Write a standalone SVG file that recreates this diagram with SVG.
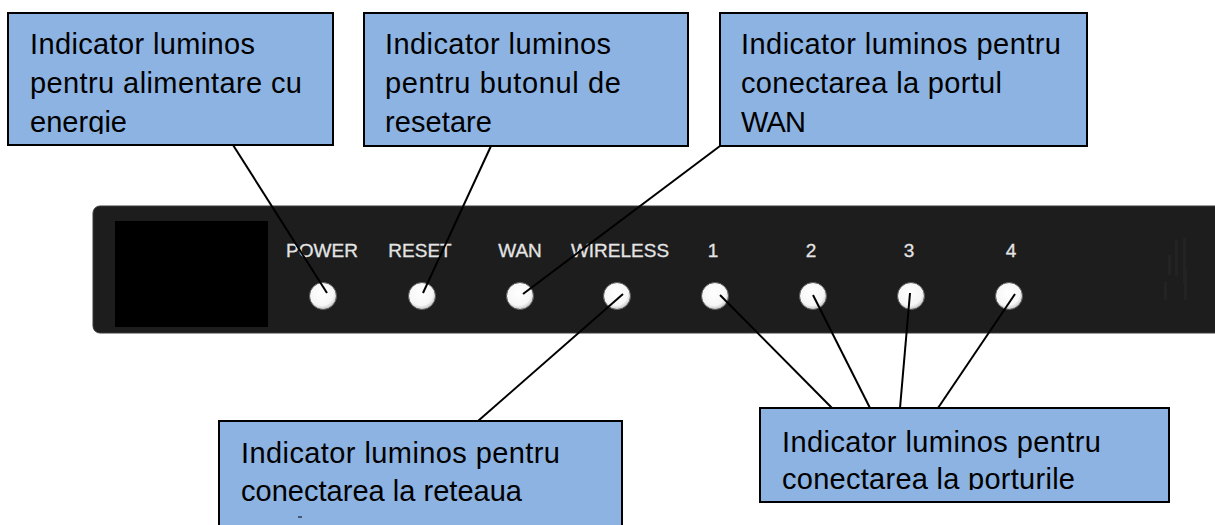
<svg xmlns="http://www.w3.org/2000/svg" width="1215" height="525" viewBox="0 0 1215 525">
<style>
.box{fill:#8db3e2;stroke:#000;stroke-width:2}
.t{font-family:"Liberation Sans",Arial,sans-serif;font-size:29px;fill:#000}
.lbl{font-family:"Liberation Sans",Arial,sans-serif;font-size:19px;fill:#e4e4e4;stroke:#e4e4e4;stroke-width:0.3;text-anchor:middle}
.conn{stroke:#000;stroke-width:2;fill:none}
</style>
<defs>
<clipPath id="c1"><rect x="8" y="13" width="325" height="121"/></clipPath>
<clipPath id="c2"><rect x="364" y="13" width="324" height="121"/></clipPath>
<clipPath id="c3"><rect x="720" y="13" width="367" height="121"/></clipPath>
<clipPath id="c5"><rect x="760" y="408" width="409" height="82"/></clipPath>
<radialGradient id="ledg" cx="0.45" cy="0.4" r="0.6">
<stop offset="0" stop-color="#ffffff"/><stop offset="0.75" stop-color="#f6f6f6"/><stop offset="1" stop-color="#c4c4c4"/>
</radialGradient>
</defs>
<rect width="1215" height="525" fill="#fff"/>

<g id="router">
<rect x="93" y="206" width="1140" height="127" rx="7" fill="#1d1d1d" stroke="#3a3a3a" stroke-width="1"/>
<rect x="115" y="221" width="153" height="106" fill="#000"/>
<g fill="#232323">
<rect x="1168" y="255" width="3" height="20"/><rect x="1175" y="240" width="3" height="36"/><rect x="1183" y="238" width="3" height="45"/>
<rect x="1164" y="282" width="3" height="18"/><rect x="1184" y="270" width="3" height="30"/>
</g>
<text class="lbl" x="322" y="257">POWER</text>
<text class="lbl" x="420" y="257">RESET</text>
<text class="lbl" x="520" y="257">WAN</text>
<text class="lbl" x="620" y="257">WIRELESS</text>
<text class="lbl" x="713" y="257">1</text>
<text class="lbl" x="811" y="257">2</text>
<text class="lbl" x="909" y="257">3</text>
<text class="lbl" x="1011" y="257">4</text>
<g fill="url(#ledg)" stroke="#5a5a5a" stroke-width="1">
<circle cx="323" cy="296" r="13.5"/>
<circle cx="422" cy="296" r="13.5"/>
<circle cx="520" cy="296" r="13.5"/>
<circle cx="617" cy="296" r="13.5"/>
<circle cx="715" cy="296" r="13.5"/>
<circle cx="813" cy="296" r="13.5"/>
<circle cx="911" cy="296" r="13.5"/>
<circle cx="1009" cy="296" r="13.5"/>
</g>
</g>

<g id="connectors">
<line class="conn" x1="233" y1="145" x2="327" y2="293"/>
<line class="conn" x1="491" y1="146" x2="423" y2="293"/>
<line class="conn" x1="720" y1="146" x2="523" y2="294"/>
<line class="conn" x1="623" y1="294" x2="478" y2="421"/>
<line class="conn" x1="720" y1="295" x2="832" y2="408"/>
<line class="conn" x1="813" y1="295" x2="870" y2="408"/>
<line class="conn" x1="910" y1="293" x2="900" y2="408"/>
<line class="conn" x1="1015" y1="294" x2="938" y2="408"/>
</g>

<g id="box-power">
<rect class="box" x="8" y="13" width="325" height="132"/>
<g clip-path="url(#c1)">
<text class="t" x="30" y="54" textLength="225" lengthAdjust="spacing">Indicator luminos</text>
<text class="t" x="30" y="93" textLength="272" lengthAdjust="spacing">pentru alimentare cu</text>
<text class="t" x="30" y="132" textLength="97" lengthAdjust="spacing">energie</text>
</g>
</g>

<g id="box-reset">
<rect class="box" x="364" y="13" width="324" height="133"/>
<g clip-path="url(#c2)">
<text class="t" x="385" y="54" textLength="226" lengthAdjust="spacing">Indicator luminos</text>
<text class="t" x="385" y="93" textLength="236" lengthAdjust="spacing">pentru butonul de</text>
<text class="t" x="385" y="132" textLength="107" lengthAdjust="spacing">resetare</text>
</g>
</g>

<g id="box-wan">
<rect class="box" x="720" y="13" width="367" height="133"/>
<g clip-path="url(#c3)">
<text class="t" x="741" y="54" textLength="320" lengthAdjust="spacing">Indicator luminos pentru</text>
<text class="t" x="741" y="93" textLength="261" lengthAdjust="spacing">conectarea la portul</text>
<text class="t" x="741" y="132" textLength="65" lengthAdjust="spacing">WAN</text>
</g>
</g>

<g id="box-wireless">
<rect class="box" x="219" y="421" width="403" height="120"/>
<text class="t" x="241" y="463" textLength="319" lengthAdjust="spacing">Indicator luminos pentru</text>
<text class="t" x="241" y="501" textLength="281" lengthAdjust="spacing">conectarea la reteaua</text>
<line x1="298" y1="517" x2="302" y2="517" stroke="#000" stroke-width="1"/>
</g>

<g id="box-ports">
<rect class="box" x="760" y="408" width="409" height="94"/>
<g clip-path="url(#c5)">
<text class="t" x="782" y="452" textLength="319" lengthAdjust="spacing">Indicator luminos pentru</text>
<text class="t" x="782" y="489" textLength="293" lengthAdjust="spacing">conectarea la porturile</text>
</g>
</g>
</svg>
